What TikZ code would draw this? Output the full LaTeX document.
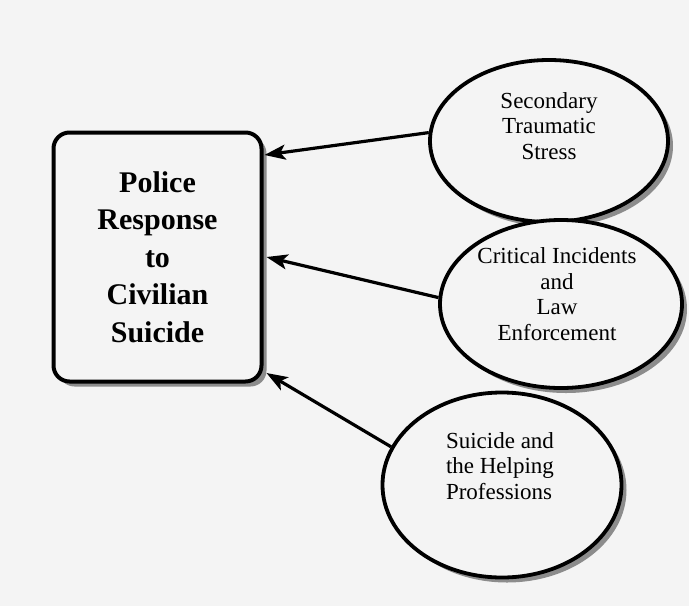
\documentclass[tikz,border=0pt]{standalone}
\usepackage{fontspec}
\setmainfont{Liberation Serif}
\usetikzlibrary{shapes.geometric,shadows,arrows.meta}

\definecolor{paper}{RGB}{244,244,244}
\definecolor{shade}{RGB}{140,140,140}

\begin{document}
\begin{tikzpicture}[x=1pt,y=-1pt,
    topicbox/.style={draw,line width=4pt,rounded corners=16pt,fill=paper,
      minimum width=208pt,minimum height=249pt,inner sep=0pt,align=center,
      font=\fontsize{30}{37.5}\selectfont\bfseries,
      drop shadow={shadow xshift=5pt,shadow yshift=-5pt,fill=shade,opacity=1}},
    source/.style={ellipse,draw,line width=3.8pt,fill=paper,inner sep=0pt,
      drop shadow={shadow xshift=5pt,shadow yshift=-5pt,fill=shade,opacity=1}},
    srctext/.style={font=\fontsize{23}{25.5}\selectfont,inner sep=0pt},
    feed/.style={line width=3.2pt,-{Stealth[length=21pt,width=15pt,inset=5pt]}}]
  % paper
  \fill[paper] (0,0) rectangle (689,606);
  \useasboundingbox (0,0) rectangle (689,606);

  % central topic
  \node[topicbox] (police) at (157.5,257) {Police\\Response\\to\\Civilian\\Suicide};

  % the three sources
  \node[source,minimum width=238pt,minimum height=162pt] (sts) at (549,141) {};
  \node[srctext,align=center] (ststext) at (549,126) {Secondary\\Traumatic\\Stress};

  \node[source,minimum width=242pt,minimum height=168pt] (cile) at (561,304) {};
  \node[srctext,align=center] (ciletext) at (557,294) {Critical Incidents\\and\\Law\\Enforcement};

  \node[source,minimum width=239pt,minimum height=185pt] (shp) at (502,485) {};
  \node[srctext,align=left] (shptext) at (500,466) {Suicide and\\the Helping\\Professions};

  % arrows into the topic
  \draw[feed] (sts.176) -- ([xshift=1pt,yshift=102pt]police.east);
  \draw[feed] (cile.177) -- ([xshift=3pt]police.east);
  \draw[feed] (shp.161) -- ([xshift=3pt,yshift=-116pt]police.east);
\end{tikzpicture}
\end{document}
